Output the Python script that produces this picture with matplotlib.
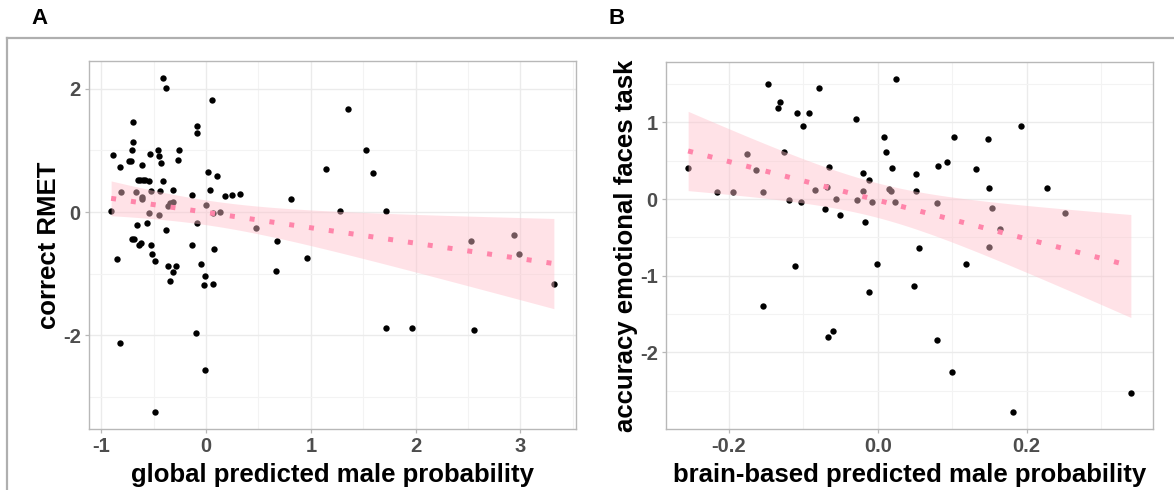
import numpy as np
import matplotlib
matplotlib.use("Agg")
import matplotlib.pyplot as plt
from matplotlib.lines import Line2D

# ---------------- data ----------------
a_x = [-0.407, -0.385, 0.053, -0.086, -0.09, -0.693, -0.696, -0.705, -0.89, -0.826,
       -0.731, -0.715, -0.607, -0.534, -0.461, -0.445, -0.426, -0.255, -0.271, -0.65,
       -0.63, -0.60, -0.58, -0.54, -0.407, 0.015, 0.105, 0.038, -0.315, -0.44,
       -0.53, -0.664, -0.814, -0.614, -0.61, -0.13, 0.184, 0.244, 0.32, 0.81,
       1.144, -0.32, -0.34, -0.36, 0.003, -0.906, -0.543, -0.445, 0.07, 0.136,
       -0.09, -0.566, -0.655, -0.378, 0.477, 0.68, -0.13, 0.076, -0.71, -0.69,
       -0.64, -0.62, -0.53, -0.85, -0.515, -0.483, -0.36, -0.29, -0.315, -0.34,
       -0.05, -0.01, -0.02, 0.07, 0.67, 0.966, -0.10, -0.82, -0.007, -0.483,
       1.354, 1.528, 1.59, 1.283, 1.72, 2.526, 2.936, 2.99, 3.32, 1.716,
       1.967, 2.558]
a_y = [2.18, 2.01, 1.82, 1.40, 1.28, 1.46, 1.14, 1.01, 0.93, 0.73,
       0.83, 0.83, 0.77, 0.95, 1.00, 0.91, 0.80, 1.01, 0.84, 0.52,
       0.52, 0.52, 0.52, 0.50, 0.51, 0.65, 0.58, 0.35, 0.36, 0.335,
       0.34, 0.32, 0.32, 0.24, 0.21, 0.27, 0.26, 0.27, 0.29, 0.205,
       0.70, 0.17, 0.14, 0.10, 0.11, 0.01, -0.01, -0.04, -0.02, 0.005,
       -0.17, -0.17, -0.21, -0.29, -0.26, -0.47, -0.53, -0.60, -0.43, -0.44,
       -0.53, -0.51, -0.53, -0.77, -0.68, -0.79, -0.88, -0.88, -0.98, -1.12,
       -0.85, -1.04, -1.19, -1.17, -0.96, -0.75, -1.97, -2.125, -2.56, -3.25,
       1.68, 1.01, 0.64, 0.02, 0.01, -0.47, -0.37, -0.68, -1.17, -1.89,
       -1.89, -1.92]

b_x = [-0.2546, -0.148, -0.131, -0.134, -0.108, -0.092, -0.100, -0.079, 0.0246, -0.0296,
       0.008, 0.0108, 0.019, 0.051, -0.1757, -0.126, -0.164, -0.0655, -0.2156, -0.1945,
       -0.1546, -0.119, -0.1035, -0.084, -0.0686, -0.056, -0.0708, -0.051, -0.0198, -0.0117,
       -0.0198, -0.0274, -0.008, -0.0166, 0.015, 0.018, 0.023, 0.051, 0.056, -0.111,
       -0.154, -0.067, -0.060, -0.0113, -0.0013, 0.049, 0.192, 0.103, 0.148, 0.081,
       0.093, 0.132, 0.150, 0.227, 0.080, 0.153, 0.164, 0.252, 0.119, 0.149,
       0.080, 0.100, 0.182, 0.340]
b_y = [0.41, 1.50, 1.27, 1.19, 1.12, 1.12, 0.95, 1.45, 1.57, 1.04,
       0.805, 0.61, 0.40, 0.33, 0.59, 0.62, 0.385, 0.415, 0.087, 0.09,
       0.09, -0.013, -0.04, 0.117, 0.156, -0.004, -0.134, -0.21, 0.34, 0.247,
       0.10, -0.013, -0.035, -0.30, 0.126, 0.104, -0.035, 0.10, -0.64, -0.874,
       -1.39, -1.796, -1.718, -1.21, -0.844, -1.13, 0.95, 0.81, 0.79, 0.43,
       0.48, 0.39, 0.15, 0.143, -0.05, -0.12, -0.385, -0.178, -0.85, -0.63,
       -1.84, -2.255, -2.78, -2.53]

a_xticks = [-1, 0, 1, 2, 3]
a_yticks = [-2, 0, 2]
b_xticks = [-0.2, 0.0, 0.2]
b_xticklabels = ["-0.2", "0.0", "0.2"]
b_yticks = [-2, -1, 0, 1]

a_xlabel = "global predicted male probability"
a_ylabel = "correct RMET"
b_xlabel = "brain-based predicted male probability"
b_ylabel = "accuracy emotional faces task"

# ---------------- style ----------------
plt.rcParams['font.family'] = ['Liberation Sans', 'DejaVu Sans']
plt.rcParams['axes.unicode_minus'] = False
W, H = 1174, 490
fig = plt.figure(figsize=(W / 100, H / 100), dpi=100)

RIBBON = "#FFC0CB"
LINEC = "#FF85AA"
TICKC = "#4D4D4D"
GRID = "#EBEBEB"
BORDER = "#B8B8B8"


def px_axes(l, r, t, b):
    return fig.add_axes([l / W, 1 - b / H, (r - l) / W, (b - t) / H])


def lm_band(x, y, n_pts=80):
    x = np.asarray(x, float)
    y = np.asarray(y, float)
    n = len(x)
    slope, icpt = np.polyfit(x, y, 1)
    resid = y - (icpt + slope * x)
    s = np.sqrt(np.sum(resid ** 2) / (n - 2))
    xm = x.mean()
    sxx = np.sum((x - xm) ** 2)
    xs = np.linspace(x.min(), x.max(), n_pts)
    fit = icpt + slope * xs
    se = s * np.sqrt(1.0 / n + (xs - xm) ** 2 / sxx)
    t = 1.99
    return xs, fit, fit - t * se, fit + t * se


def draw_panel(ax, x, y, xticks, yticks, xlabel, ylabel, xticklabels=None):
    x = np.asarray(x, float)
    y = np.asarray(y, float)
    xr = x.max() - x.min()
    yr = y.max() - y.min()
    ax.set_xlim(x.min() - 0.05 * xr, x.max() + 0.05 * xr)
    ax.set_ylim(y.min() - 0.05 * yr, y.max() + 0.05 * yr)

    ax.scatter(x, y, s=21, color="black", linewidths=0, zorder=2)
    xs, fit, lo, hi = lm_band(x, y)
    ax.fill_between(xs, lo, hi, color=RIBBON, alpha=0.45, linewidth=0, zorder=3)
    ax.plot(xs, fit, color=LINEC, lw=3.6, linestyle=(0, (1, 3)),
            dash_capstyle="butt", zorder=4)

    ax.set_xticks(xticks)
    if xticklabels is not None:
        ax.set_xticklabels(xticklabels)
    ax.set_yticks(yticks)
    dx = xticks[1] - xticks[0]
    dy = yticks[1] - yticks[0]
    xmin, xmax = ax.get_xlim()
    ymin, ymax = ax.get_ylim()
    mx = np.arange(xticks[0] - dx / 2, xmax, dx)
    my = np.arange(yticks[0] - dy / 2, ymax, dy)
    ax.set_xticks(mx[(mx > xmin) & (mx < xmax)], minor=True)
    ax.set_yticks(my[(my > ymin) & (my < ymax)], minor=True)
    ax.grid(True, which="major", color=GRID, lw=1.0, zorder=0)
    ax.grid(True, which="minor", color="#F3F3F3", lw=0.8, zorder=0)
    ax.set_axisbelow(True)
    ax.tick_params(which="minor", length=0)
    ax.tick_params(which="major", length=3, width=0.9, color=BORDER,
                   labelsize=14.5, labelcolor=TICKC, pad=3)
    for lab in ax.get_xticklabels() + ax.get_yticklabels():
        lab.set_fontweight("bold")
    for sp in ax.spines.values():
        sp.set_color(BORDER)
        sp.set_linewidth(1.0)
    ax.set_xlabel(xlabel, fontsize=18.5, fontweight="bold", labelpad=5)
    ax.set_ylabel(ylabel, fontsize=18.5, fontweight="bold", labelpad=1.5)


axA = px_axes(89, 576, 61, 429)
draw_panel(axA, a_x, a_y, a_xticks, a_yticks, a_xlabel, a_ylabel)

axB = px_axes(666, 1153, 62, 429)
draw_panel(axB, b_x, b_y, b_xticks, b_yticks, b_xlabel, b_ylabel, b_xticklabels)

# outer frame lines
fig.add_artist(Line2D([7 / W, 1.0], [1 - 38 / H, 1 - 38 / H], color="#AFAFAF", lw=1.6))
fig.add_artist(Line2D([7 / W, 7 / W], [1 - 38 / H, 0.0], color="#AFAFAF", lw=1.6))

fig.text(40 / W, 1 - 18 / H, "A", fontsize=16, fontweight="bold", ha="center", va="center")
fig.text(617 / W, 1 - 18 / H, "B", fontsize=16, fontweight="bold", ha="center", va="center")

fig.savefig("out.png", dpi=100)
